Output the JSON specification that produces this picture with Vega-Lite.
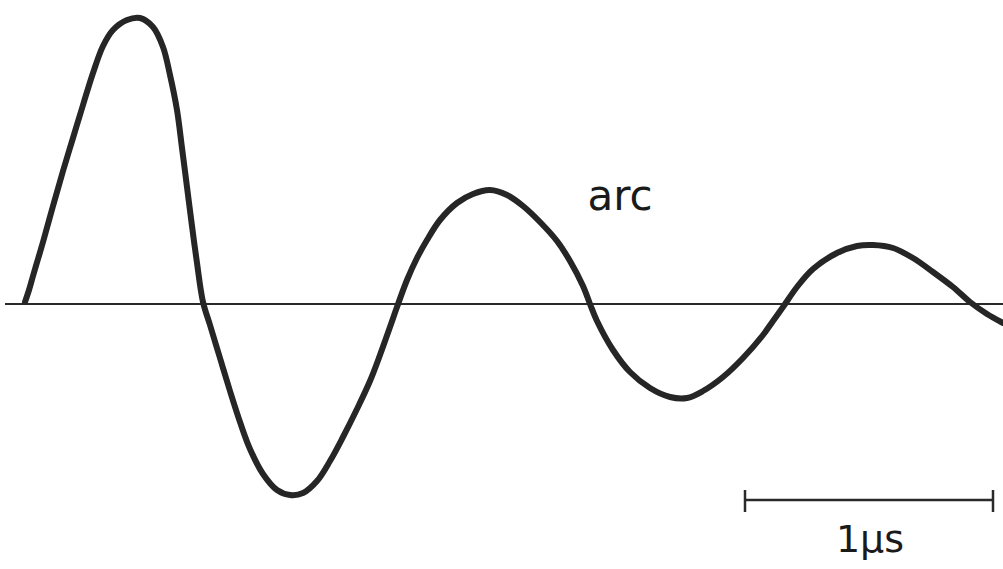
{
  "$schema": "https://vega.github.io/schema/vega-lite/v6.json",
  "width": 1003,
  "height": 569,
  "padding": 0,
  "autosize": {"type": "none"},
  "background": "white",
  "config": {"view": {"stroke": null}},
  "datasets": {
    "wave": [
      {"t": 25, "v": 2}, {"t": 29, "v": 14}, {"t": 33, "v": 28}, {"t": 38, "v": 45},
      {"t": 43, "v": 62}, {"t": 53, "v": 98}, {"t": 63, "v": 133}, {"t": 73, "v": 166},
      {"t": 83, "v": 199}, {"t": 93, "v": 231}, {"t": 103, "v": 258}, {"t": 113, "v": 274},
      {"t": 127, "v": 284}, {"t": 140, "v": 286}, {"t": 153, "v": 277}, {"t": 163, "v": 257},
      {"t": 170, "v": 229}, {"t": 177, "v": 194}, {"t": 182, "v": 156}, {"t": 187, "v": 117},
      {"t": 192, "v": 78}, {"t": 197, "v": 41}, {"t": 203, "v": 2}, {"t": 210, "v": -21},
      {"t": 220, "v": -54}, {"t": 230, "v": -87}, {"t": 240, "v": -118}, {"t": 250, "v": -145},
      {"t": 263, "v": -170}, {"t": 277, "v": -186}, {"t": 290, "v": -191}, {"t": 303, "v": -189},
      {"t": 317, "v": -177}, {"t": 330, "v": -157}, {"t": 343, "v": -133}, {"t": 357, "v": -105},
      {"t": 370, "v": -77}, {"t": 380, "v": -51}, {"t": 390, "v": -23}, {"t": 397, "v": -3},
      {"t": 407, "v": 24}, {"t": 417, "v": 46}, {"t": 427, "v": 64}, {"t": 440, "v": 84},
      {"t": 457, "v": 101}, {"t": 473, "v": 110}, {"t": 490, "v": 114}, {"t": 507, "v": 109},
      {"t": 523, "v": 98}, {"t": 540, "v": 82}, {"t": 557, "v": 63}, {"t": 570, "v": 43},
      {"t": 583, "v": 18}, {"t": 590, "v": 0}, {"t": 597, "v": -17}, {"t": 613, "v": -46},
      {"t": 630, "v": -68}, {"t": 650, "v": -84}, {"t": 670, "v": -93}, {"t": 687, "v": -94},
      {"t": 703, "v": -87}, {"t": 723, "v": -73}, {"t": 743, "v": -54}, {"t": 763, "v": -31},
      {"t": 773, "v": -17}, {"t": 783, "v": -3}, {"t": 797, "v": 17}, {"t": 813, "v": 35},
      {"t": 837, "v": 51}, {"t": 857, "v": 58}, {"t": 873, "v": 59}, {"t": 893, "v": 56},
      {"t": 913, "v": 46}, {"t": 933, "v": 32}, {"t": 953, "v": 17}, {"t": 970, "v": 2},
      {"t": 987, "v": -10}, {"t": 1003, "v": -19}
    ],
    "hrules": [
      {"name": "baseline", "t1": 5, "t2": 1003, "v": 0, "w": 2},
      {"name": "scalebar", "t1": 745, "t2": 993, "v": -196, "w": 2.5}
    ],
    "vrules": [
      {"t": 745, "v1": -186, "v2": -208},
      {"t": 993, "v1": -186, "v2": -208}
    ],
    "labels": [
      {"t": 620, "v": 94, "label": "arc", "size": 42},
      {"t": 870, "v": -248, "label": "1μs", "size": 38}
    ]
  },
  "layer": [
    {
      "data": {"name": "hrules"},
      "mark": {"type": "rule", "color": "#2a2a2a"},
      "encoding": {
        "x": {"field": "t1", "type": "quantitative", "scale": {"domain": [0, 1003], "nice": false, "zero": false}, "axis": null},
        "x2": {"field": "t2"},
        "y": {"field": "v", "type": "quantitative", "scale": {"domain": [-265, 304], "nice": false, "zero": false}, "axis": null},
        "strokeWidth": {"field": "w", "type": "quantitative", "scale": null}
      }
    },
    {
      "data": {"name": "vrules"},
      "mark": {"type": "rule", "color": "#2a2a2a", "strokeWidth": 2.5},
      "encoding": {
        "x": {"field": "t", "type": "quantitative", "axis": null},
        "y": {"field": "v1", "type": "quantitative", "axis": null},
        "y2": {"field": "v2"}
      }
    },
    {
      "data": {"name": "wave"},
      "mark": {"type": "line", "color": "#262626", "strokeWidth": 6, "interpolate": "catmull-rom", "strokeCap": "round"},
      "encoding": {
        "x": {"field": "t", "type": "quantitative", "axis": null},
        "y": {"field": "v", "type": "quantitative", "axis": null}
      }
    },
    {
      "data": {"name": "labels"},
      "mark": {"type": "text", "font": "DejaVu Sans", "color": "#1a1a1a", "baseline": "alphabetic", "align": "center"},
      "encoding": {
        "x": {"field": "t", "type": "quantitative", "axis": null},
        "y": {"field": "v", "type": "quantitative", "axis": null},
        "text": {"field": "label"},
        "size": {"field": "size", "type": "quantitative", "scale": null}
      }
    }
  ]
}
